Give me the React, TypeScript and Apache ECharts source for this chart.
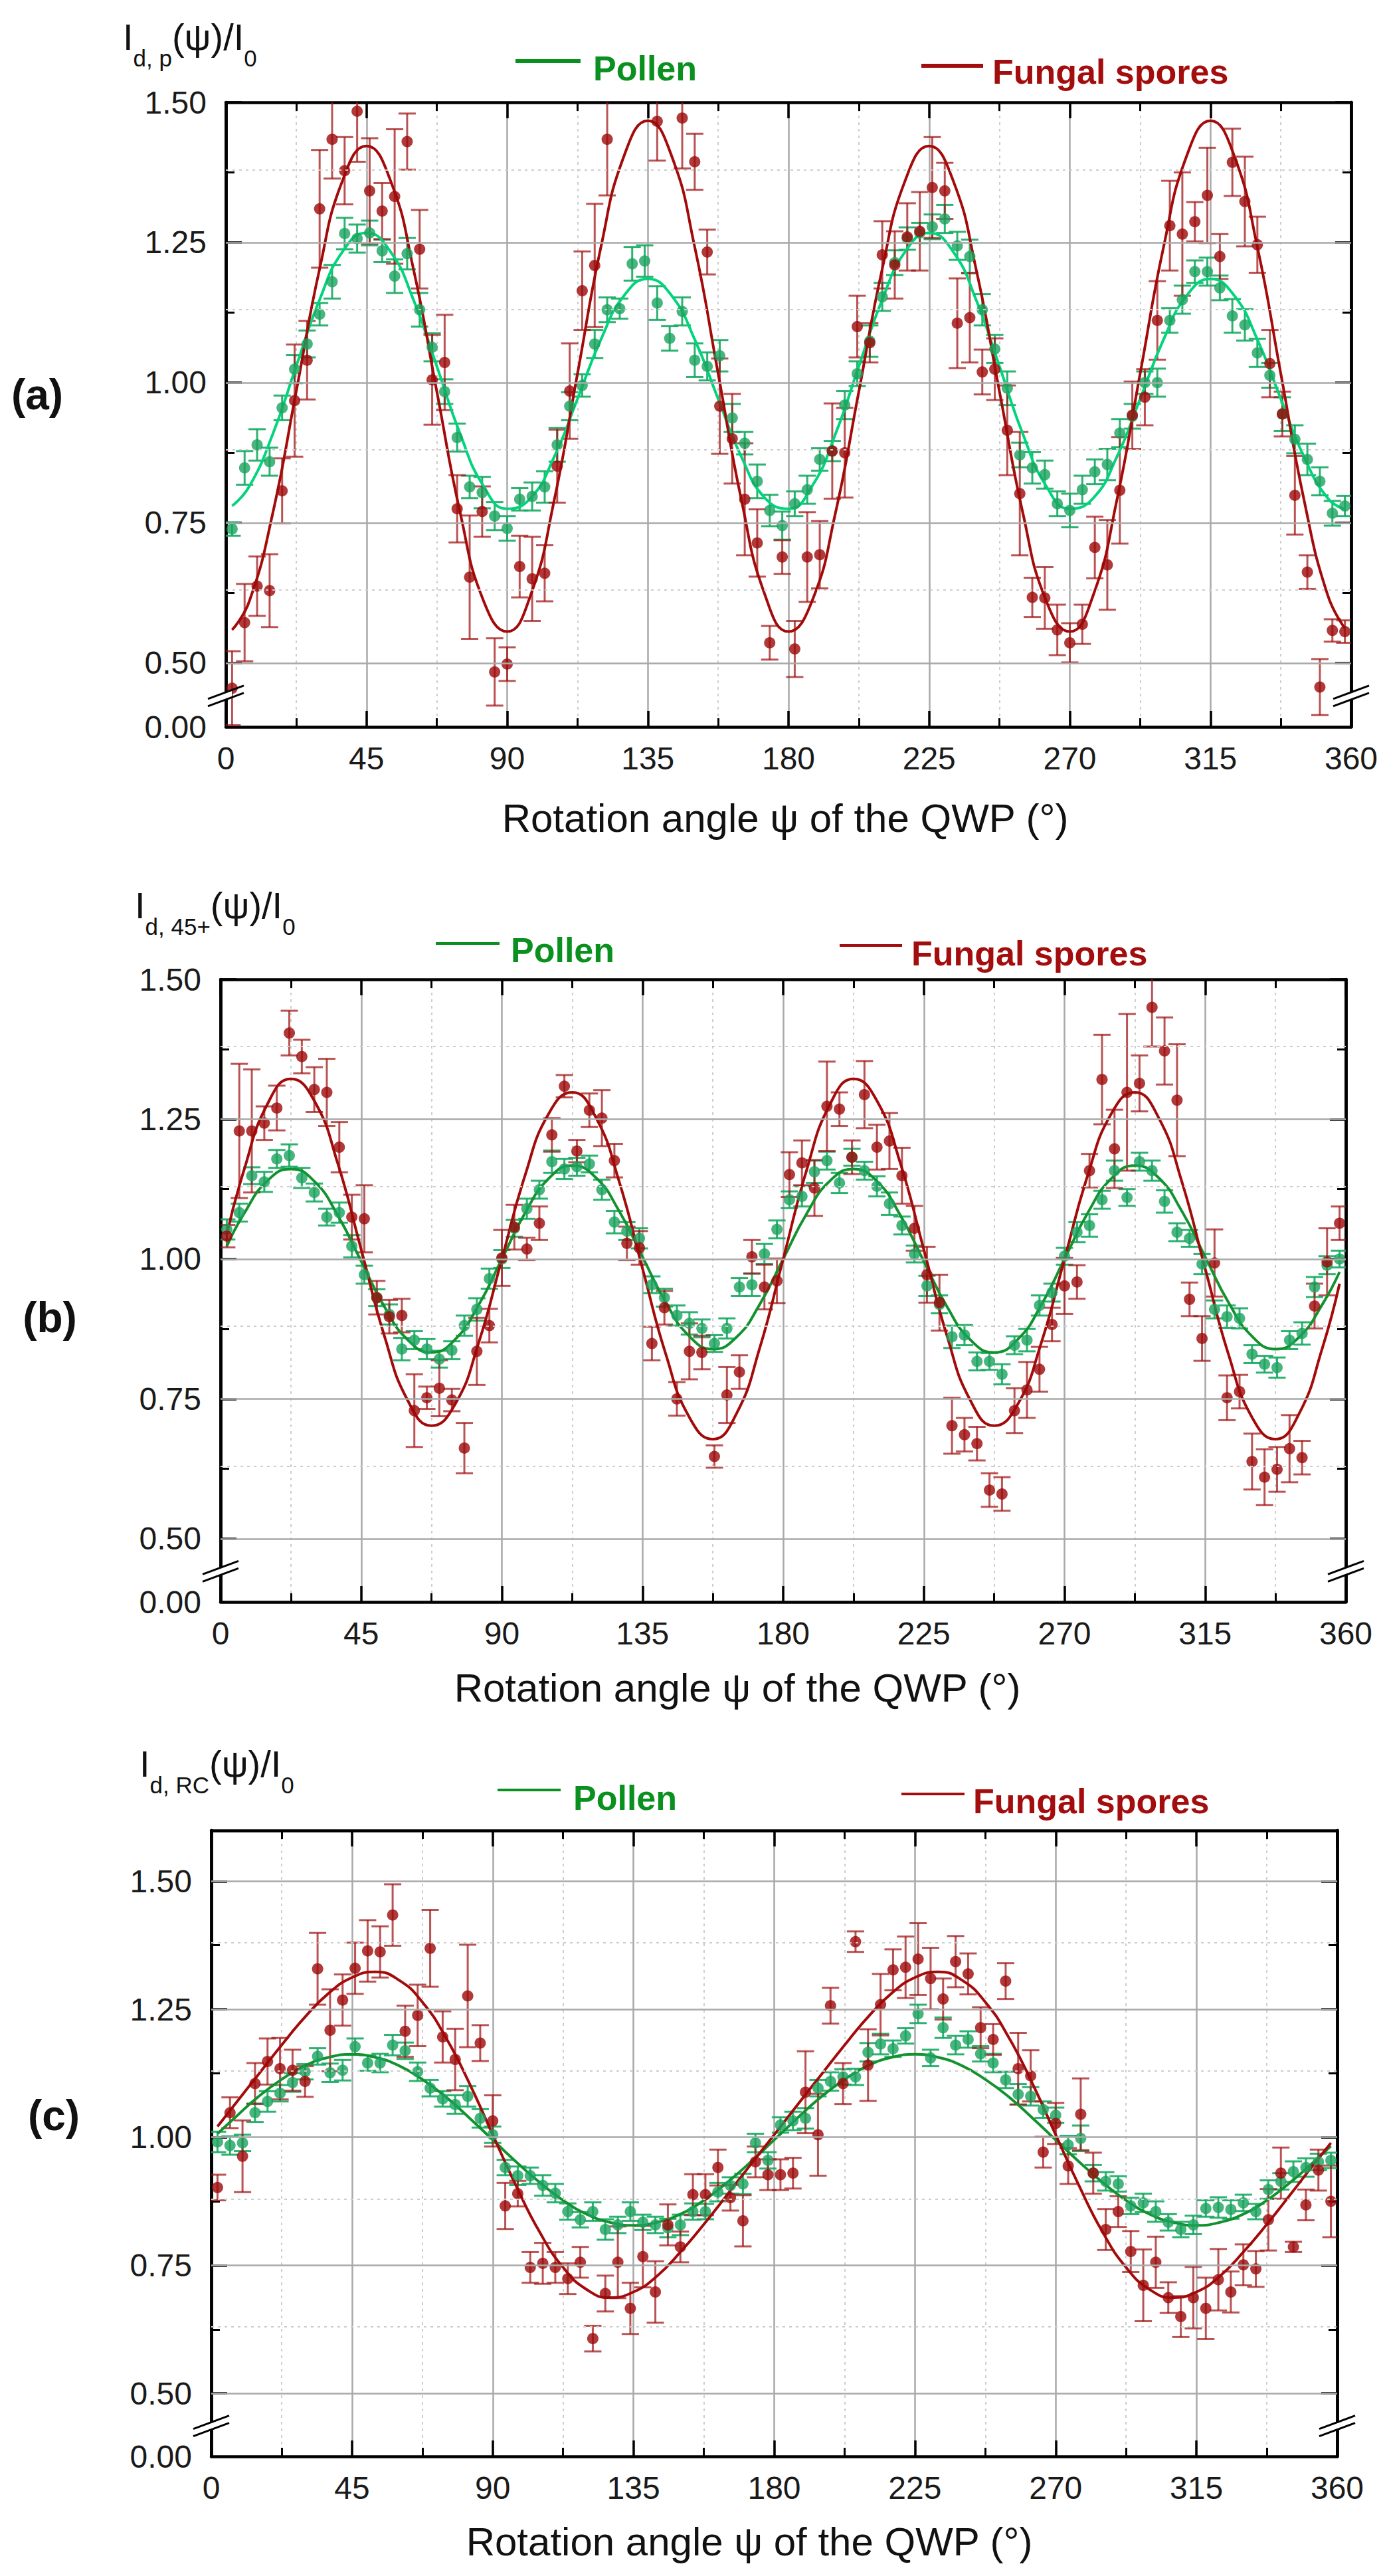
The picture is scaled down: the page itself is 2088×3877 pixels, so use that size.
import React, { useEffect, useRef } from "react";
import * as echarts from "echarts";

// ---------- data ----------
const ANGLES = [2, 6, 10, 14, 18, 22, 26, 30, 34, 38, 42, 46, 50, 54, 58, 62, 66, 70, 74, 78, 82, 86, 90, 94, 98, 102, 106, 110, 114, 118, 122, 126, 130, 134, 138, 142, 146, 150, 154, 158, 162, 166, 170, 174, 178, 182, 186, 190, 194, 198, 202, 206, 210, 214, 218, 222, 226, 230, 234, 238, 242, 246, 250, 254, 258, 262, 266, 270, 274, 278, 282, 286, 290, 294, 298, 302, 306, 310, 314, 318, 322, 326, 330, 334, 338, 342, 346, 350, 354, 358];

const FIT_ANGLES = [2, 7.5, 15, 22.5, 30, 37.5, 45, 52.5, 60, 67.5, 75, 82.5, 90, 97.5, 105, 112.5, 120, 127.5, 135, 142.5, 150, 157.5, 165, 172.5, 180, 187.5, 195, 202.5, 210, 217.5, 225, 232.5, 240, 247.5, 255, 262.5, 270, 277.5, 285, 292.5, 300, 307.5, 315, 322.5, 330, 337.5, 345, 352.5, 358];

const Y_MAJOR = [0.5, 0.75, 1.0, 1.25, 1.5];
const Y_MINOR = [0.625, 0.875, 1.125, 1.375];

// panel (a)
const A_POLLEN = [0.739, 0.848, 0.889, 0.859, 0.955, 1.024, 1.069, 1.122, 1.180, 1.266, 1.257, 1.267, 1.235, 1.190, 1.230, 1.130, 1.063, 0.984, 0.902, 0.814, 0.804, 0.762, 0.740, 0.792, 0.797, 0.814, 0.889, 0.958, 0.995, 1.069, 1.130, 1.132, 1.212, 1.217, 1.142, 1.079, 1.127, 1.040, 1.029, 1.048, 0.937, 0.892, 0.824, 0.772, 0.745, 0.784, 0.809, 0.863, 0.878, 0.960, 1.016, 1.074, 1.153, 1.214, 1.257, 1.267, 1.278, 1.292, 1.244, 1.225, 1.130, 1.060, 0.990, 0.871, 0.848, 0.836, 0.784, 0.772, 0.809, 0.841, 0.854, 0.910, 0.940, 1.000, 1.000, 1.111, 1.148, 1.198, 1.198, 1.169, 1.119, 1.103, 1.053, 1.013, 0.944, 0.899, 0.863, 0.824, 0.767, 0.780];
const A_POLLEN_ERR = [0.012, 0.030, 0.028, 0.025, 0.022, 0.025, 0.024, 0.020, 0.030, 0.028, 0.025, 0.022, 0.020, 0.030, 0.028, 0.030, 0.025, 0.022, 0.025, 0.020, 0.028, 0.025, 0.022, 0.020, 0.025, 0.028, 0.030, 0.025, 0.020, 0.025, 0.022, 0.018, 0.030, 0.028, 0.030, 0.022, 0.025, 0.030, 0.025, 0.028, 0.025, 0.020, 0.030, 0.028, 0.025, 0.022, 0.025, 0.020, 0.018, 0.025, 0.022, 0.028, 0.025, 0.022, 0.020, 0.018, 0.022, 0.025, 0.025, 0.030, 0.028, 0.025, 0.030, 0.022, 0.028, 0.025, 0.022, 0.030, 0.025, 0.022, 0.028, 0.025, 0.022, 0.020, 0.025, 0.022, 0.025, 0.020, 0.025, 0.022, 0.030, 0.028, 0.025, 0.022, 0.030, 0.025, 0.028, 0.025, 0.022, 0.018];
const A_FUNGAL = [0.455, 0.572, 0.637, 0.629, 0.807, 0.968, 1.040, 1.310, 1.434, 1.378, 1.484, 1.342, 1.306, 1.332, 1.430, 1.238, 1.005, 1.036, 0.775, 0.653, 0.770, 0.484, 0.498, 0.672, 0.650, 0.660, 0.851, 0.985, 1.164, 1.209, 1.434, null, null, null, 1.466, null, 1.472, 1.394, 1.233, 0.958, 0.900, 0.792, 0.714, 0.536, 0.689, 0.525, 0.689, 0.693, 0.878, 0.875, 1.100, 1.071, 1.228, 1.210, 1.260, 1.270, 1.348, 1.342, 1.106, 1.116, 1.019, 1.024, 0.915, 0.802, 0.617, 0.616, 0.559, 0.536, 0.569, 0.706, 0.675, 0.808, 0.942, 0.974, 1.111, 1.280, 1.265, 1.287, 1.334, 1.225, 1.393, 1.323, 1.246, 1.034, 0.944, 0.799, 0.662, 0.457, 0.558, 0.556];
const A_FUNGAL_ERR = [0.066, 0.069, 0.053, 0.065, 0.058, 0.100, 0.070, 0.105, 0.070, 0.060, 0.090, 0.094, 0.050, 0.120, 0.050, 0.070, 0.080, 0.085, 0.060, 0.110, 0.045, 0.060, 0.030, 0.055, 0.075, 0.050, 0.065, 0.085, 0.070, 0.110, 0.100, 0, 0, 0, 0.070, 0, 0.090, 0.050, 0.040, 0.085, 0.080, 0.100, 0.060, 0.030, 0.030, 0.050, 0.080, 0.060, 0.085, 0.080, 0.055, 0.035, 0.060, 0.060, 0.060, 0.070, 0.090, 0.050, 0.080, 0.080, 0.040, 0.055, 0.080, 0.110, 0.035, 0.055, 0.045, 0.035, 0.035, 0.055, 0.080, 0.095, 0.060, 0.050, 0.070, 0.080, 0.110, 0.035, 0.085, 0.040, 0.060, 0.080, 0.050, 0.060, 0.040, 0.070, 0.030, 0.050, 0.020, 0.020];
const A_POLLEN_FIT = [0.780, 0.815, 0.908, 1.029, 1.148, 1.235, 1.267, 1.235, 1.148, 1.029, 0.908, 0.815, 0.775, 0.794, 0.867, 0.971, 1.077, 1.156, 1.185, 1.156, 1.077, 0.971, 0.867, 0.794, 0.775, 0.815, 0.908, 1.029, 1.148, 1.235, 1.267, 1.235, 1.148, 1.029, 0.908, 0.815, 0.775, 0.794, 0.867, 0.971, 1.077, 1.156, 1.185, 1.156, 1.077, 0.971, 0.867, 0.794, 0.774];
const A_FUNGAL_FIT = [0.559, 0.610, 0.767, 0.984, 1.203, 1.363, 1.422, 1.363, 1.203, 0.984, 0.767, 0.610, 0.556, 0.621, 0.789, 1.016, 1.242, 1.406, 1.467, 1.406, 1.242, 1.016, 0.789, 0.621, 0.556, 0.610, 0.767, 0.984, 1.203, 1.363, 1.422, 1.363, 1.203, 0.984, 0.767, 0.610, 0.556, 0.621, 0.789, 1.016, 1.242, 1.406, 1.467, 1.406, 1.242, 1.016, 0.789, 0.621, 0.562];

// panel (b)
const B_POLLEN = [1.053, 1.083, 1.149, 1.138, 1.179, 1.185, 1.145, 1.119, 1.075, 1.083, 1.023, 0.972, 0.931, 0.901, 0.839, 0.855, 0.839, 0.821, 0.837, 0.881, 0.910, 0.965, 1.000, 1.055, 1.090, 1.124, 1.174, 1.161, 1.165, 1.170, 1.124, 1.066, 1.050, 1.037, 0.954, 0.931, 0.899, 0.885, 0.876, 0.849, 0.876, 0.950, 0.954, 1.009, 1.053, 1.106, 1.112, 1.156, 1.176, 1.136, 1.182, 1.158, 1.130, 1.099, 1.060, 1.009, 0.952, 0.919, 0.861, 0.864, 0.817, 0.817, 0.794, 0.846, 0.855, 0.917, 0.940, 1.005, 1.048, 1.060, 1.106, 1.158, 1.110, 1.174, 1.158, 1.103, 1.048, 1.037, 0.991, 0.910, 0.897, 0.894, 0.830, 0.812, 0.806, 0.855, 0.867, 0.950, 0.989, 1.000];
const B_POLLEN_ERR = [0.018, 0.016, 0.015, 0.018, 0.016, 0.020, 0.018, 0.016, 0.015, 0.018, 0.020, 0.016, 0.015, 0.018, 0.020, 0.016, 0.018, 0.015, 0.016, 0.018, 0.020, 0.018, 0.016, 0.015, 0.018, 0.016, 0.020, 0.018, 0.016, 0.015, 0.018, 0.020, 0.016, 0.018, 0.015, 0.016, 0.018, 0.020, 0.016, 0.015, 0.018, 0.016, 0.020, 0.018, 0.016, 0.015, 0.018, 0.020, 0.016, 0.018, 0.015, 0.016, 0.018, 0.020, 0.016, 0.015, 0.018, 0.016, 0.020, 0.018, 0.016, 0.015, 0.018, 0.016, 0.020, 0.018, 0.016, 0.015, 0.018, 0.020, 0.016, 0.018, 0.015, 0.016, 0.018, 0.020, 0.016, 0.015, 0.018, 0.016, 0.020, 0.018, 0.016, 0.015, 0.018, 0.016, 0.020, 0.018, 0.016, 0.015];
const B_FUNGAL = [1.041, 1.229, 1.229, 1.243, 1.270, 1.404, 1.362, 1.303, 1.298, 1.200, 1.075, 1.072, 0.931, 0.897, 0.899, 0.729, 0.752, 0.769, 0.748, 0.662, 0.835, 0.881, 1.002, 1.057, 1.018, 1.064, 1.222, 1.309, 1.193, 1.266, 1.252, 1.176, 1.028, 1.020, 0.849, 0.913, 0.750, 0.835, 0.833, 0.647, 0.757, 0.798, 1.004, 0.950, 0.961, 1.151, 1.172, 1.127, 1.273, 1.268, 1.182, 1.294, 1.200, 1.211, 1.149, 1.055, 0.972, 0.922, 0.702, 0.686, 0.670, 0.587, 0.580, 0.729, 0.766, 0.803, 0.883, 0.952, 0.959, 1.158, 1.321, 1.197, 1.298, 1.314, 1.450, 1.372, 1.284, 0.928, 0.858, 0.993, 0.752, 0.763, 0.638, 0.610, 0.624, 0.661, 0.645, 0.916, 0.995, 1.064];
const B_FUNGAL_ERR = [0.020, 0.120, 0.110, 0.030, 0.040, 0.040, 0.030, 0.040, 0.060, 0.045, 0.040, 0.060, 0.030, 0.030, 0.030, 0.065, 0.020, 0.050, 0.020, 0.045, 0.060, 0.030, 0.050, 0.040, 0.020, 0.030, 0.030, 0.020, 0.020, 0.030, 0.050, 0.030, 0.030, 0.030, 0.030, 0.030, 0.030, 0.050, 0.030, 0.020, 0.050, 0.030, 0.030, 0.040, 0.040, 0.040, 0.040, 0.050, 0.080, 0.030, 0.030, 0.060, 0.040, 0.050, 0.050, 0.040, 0.050, 0.050, 0.050, 0.030, 0.030, 0.030, 0.030, 0.040, 0.050, 0.040, 0.030, 0.050, 0.030, 0.030, 0.080, 0.070, 0.140, 0.050, 0.070, 0.060, 0.100, 0.030, 0.040, 0.060, 0.040, 0.030, 0.050, 0.050, 0.040, 0.060, 0.030, 0.040, 0.060, 0.030];
const B_POLLEN_FIT = [1.023, 1.081, 1.140, 1.161, 1.139, 1.078, 0.996, 0.914, 0.855, 0.833, 0.856, 0.917, 1.000, 1.083, 1.144, 1.167, 1.146, 1.086, 1.004, 0.922, 0.862, 0.839, 0.860, 0.919, 1.000, 1.081, 1.140, 1.161, 1.139, 1.078, 0.996, 0.914, 0.855, 0.833, 0.856, 0.917, 1.000, 1.083, 1.144, 1.167, 1.146, 1.086, 1.004, 0.922, 0.862, 0.839, 0.860, 0.919, 0.977];
const B_FUNGAL_FIT = [1.044, 1.159, 1.277, 1.322, 1.283, 1.171, 1.017, 0.861, 0.746, 0.702, 0.740, 0.849, 1.000, 1.151, 1.260, 1.298, 1.254, 1.139, 0.983, 0.829, 0.717, 0.678, 0.723, 0.841, 1.000, 1.159, 1.277, 1.322, 1.283, 1.171, 1.017, 0.861, 0.746, 0.702, 0.740, 0.849, 1.000, 1.151, 1.260, 1.298, 1.254, 1.139, 0.983, 0.829, 0.717, 0.678, 0.723, 0.841, 0.956];

// panel (c)
const C_POLLEN = [0.991, 0.984, 0.989, 1.048, 1.070, 1.086, 1.107, 1.128, 1.158, 1.126, 1.131, 1.177, 1.145, 1.145, 1.180, 1.169, 1.128, 1.096, 1.075, 1.064, 1.080, 1.037, 1.005, 0.941, 0.925, 0.925, 0.906, 0.891, 0.855, 0.839, 0.855, 0.820, 0.829, 0.855, 0.834, 0.829, 0.823, 0.829, 0.855, 0.855, 0.893, 0.906, 0.909, 0.989, 0.955, 1.024, 1.032, 1.037, 1.096, 1.109, 1.118, 1.118, 1.166, 1.182, 1.173, 1.198, 1.241, 1.155, 1.214, 1.180, 1.191, 1.163, 1.145, 1.112, 1.084, 1.080, 1.054, 1.043, 0.985, 0.998, 0.930, 0.914, 0.909, 0.866, 0.872, 0.855, 0.834, 0.820, 0.829, 0.861, 0.863, 0.859, 0.872, 0.855, 0.898, 0.914, 0.933, 0.941, 0.952, 0.955];
const C_POLLEN_ERR = [0.020, 0.018, 0.016, 0.018, 0.020, 0.016, 0.018, 0.015, 0.016, 0.018, 0.020, 0.016, 0.015, 0.018, 0.020, 0.016, 0.018, 0.016, 0.015, 0.018, 0.020, 0.018, 0.016, 0.015, 0.018, 0.016, 0.020, 0.018, 0.016, 0.015, 0.018, 0.020, 0.016, 0.018, 0.015, 0.016, 0.018, 0.020, 0.016, 0.015, 0.018, 0.016, 0.020, 0.018, 0.016, 0.015, 0.018, 0.020, 0.016, 0.018, 0.015, 0.016, 0.018, 0.020, 0.016, 0.015, 0.018, 0.016, 0.020, 0.018, 0.016, 0.015, 0.018, 0.016, 0.020, 0.018, 0.016, 0.015, 0.018, 0.025, 0.016, 0.018, 0.015, 0.016, 0.018, 0.020, 0.016, 0.015, 0.018, 0.016, 0.020, 0.018, 0.016, 0.015, 0.018, 0.016, 0.020, 0.018, 0.016, 0.015];
const C_FUNGAL = [0.902, 1.048, 0.963, 1.105, 1.148, 1.134, 1.131, 1.109, 1.329, 1.209, 1.268, 1.330, 1.364, 1.362, 1.434, 1.207, 1.238, 1.369, 1.196, 1.152, 1.276, 1.184, 1.032, 0.866, 0.890, 0.746, 0.754, 0.746, 0.724, 0.756, 0.607, 0.695, 0.756, 0.666, 0.767, 0.698, 0.829, 0.786, 0.888, 0.888, 0.941, 0.882, 0.837, 0.952, 0.927, 0.927, 0.930, 1.088, 1.005, 1.257, 1.105, 1.382, 1.141, 1.259, 1.327, 1.332, 1.348, 1.310, 1.270, 1.343, 1.319, 1.214, 1.191, 1.305, 1.134, 1.120, 0.971, 1.027, 0.944, 1.045, 0.930, 0.820, 0.855, 0.777, 0.711, 0.756, 0.687, 0.650, 0.687, 0.666, 0.722, 0.698, 0.751, 0.743, 0.839, 0.930, 0.786, 0.868, 0.936, 0.875];
const C_FUNGAL_ERR = [0.025, 0.030, 0.070, 0.040, 0.045, 0.060, 0.040, 0.030, 0.070, 0.080, 0.050, 0.050, 0.060, 0.050, 0.060, 0.050, 0.060, 0.075, 0.050, 0.060, 0.100, 0.035, 0.050, 0.045, 0.025, 0.030, 0.040, 0.030, 0.030, 0.030, 0.025, 0.035, 0.070, 0.050, 0.060, 0.060, 0.040, 0.030, 0.040, 0.040, 0.035, 0.025, 0.050, 0.030, 0.030, 0.030, 0.030, 0.080, 0.080, 0.035, 0.040, 0.020, 0.070, 0.060, 0.040, 0.060, 0.070, 0.060, 0.040, 0.050, 0.040, 0.040, 0.030, 0.035, 0.070, 0.050, 0.030, 0.040, 0.035, 0.070, 0.040, 0.040, 0.030, 0.040, 0.070, 0.050, 0.030, 0.040, 0.060, 0.060, 0.060, 0.040, 0.040, 0.035, 0.060, 0.050, 0.010, 0.030, 0.040, 0.070];
const C_POLLEN_FIT = [1.007, 1.038, 1.079, 1.113, 1.140, 1.156, 1.162, 1.156, 1.140, 1.113, 1.079, 1.038, 0.995, 0.952, 0.912, 0.877, 0.850, 0.834, 0.828, 0.834, 0.850, 0.877, 0.912, 0.952, 0.995, 1.038, 1.079, 1.113, 1.140, 1.156, 1.162, 1.156, 1.140, 1.113, 1.079, 1.038, 0.995, 0.952, 0.912, 0.877, 0.850, 0.834, 0.828, 0.834, 0.850, 0.877, 0.912, 0.952, 0.983];
const C_FUNGAL_FIT = [1.021, 1.064, 1.122, 1.180, 1.235, 1.281, 1.312, 1.323, 1.307, 1.264, 1.195, 1.106, 1.005, 0.905, 0.815, 0.746, 0.703, 0.687, 0.698, 0.729, 0.776, 0.830, 0.888, 0.947, 1.005, 1.064, 1.122, 1.180, 1.235, 1.281, 1.312, 1.323, 1.307, 1.264, 1.195, 1.106, 1.005, 0.905, 0.815, 0.746, 0.703, 0.687, 0.698, 0.729, 0.776, 0.830, 0.888, 0.947, 0.989];

// ---------- styling / layout ----------
const FONT = '"Liberation Sans", Arial, Helvetica, sans-serif';
const FUNGAL_LINE = "#a30a0a";
const FUNGAL_DOT = "#9c0707";
const FUNGAL_ERRC = "rgba(160, 18, 18, 0.72)";
const POLLEN_DOT = "#1aa35e";
const POLLEN_ERRC = "rgba(22, 170, 98, 0.9)";
const LEGEND_GREEN = "#0a901f";
const LEGEND_RED = "#a30d0d";

const PANELS = [
  {
    left: 340, top: 154, width: 1694, height: 940, yMin: 0.386, yMax: 1.5,
    pollen: A_POLLEN, pollenErr: A_POLLEN_ERR, fungal: A_FUNGAL, fungalErr: A_FUNGAL_ERR,
    pollenFit: A_POLLEN_FIT, fungalFit: A_FUNGAL_FIT, pollenFitColor: "#00d47c",
    sub: "d, p", titleX: 185, titleTop: 5,
    lp: { lx: 776, ly: 92, lw: 98, lh: 6, tx: 893, ty: 103 },
    lf: { lx: 1387, ly: 99, lw: 93, lh: 6, tx: 1494, ty: 108 },
    tag: "(a)", tagX: 56, tagY: 594, xNameX: 1182, xNameY: 1231,
  },
  {
    left: 332, top: 1474, width: 1694, height: 937, yMin: 0.387, yMax: 1.5,
    pollen: B_POLLEN, pollenErr: B_POLLEN_ERR, fungal: B_FUNGAL, fungalErr: B_FUNGAL_ERR,
    pollenFit: B_POLLEN_FIT, fungalFit: B_FUNGAL_FIT, pollenFitColor: "#12922e",
    sub: "d, 45+", titleX: 203, titleTop: 1312,
    lp: { lx: 656, ly: 1420, lw: 96, lh: 4, tx: 769, ty: 1430 },
    lf: { lx: 1264, ly: 1423, lw: 94, lh: 4, tx: 1372, ty: 1435 },
    tag: "(b)", tagX: 75, tagY: 1983, xNameX: 1110, xNameY: 2540,
  },
  {
    left: 318, top: 2755, width: 1695, height: 942, yMin: 0.377, yMax: 1.599,
    pollen: C_POLLEN, pollenErr: C_POLLEN_ERR, fungal: C_FUNGAL, fungalErr: C_FUNGAL_ERR,
    pollenFit: C_POLLEN_FIT, fungalFit: C_FUNGAL_FIT, pollenFitColor: "#12922e",
    sub: "d, RC", titleX: 210, titleTop: 2604,
    lp: { lx: 749, ly: 2694, lw: 95, lh: 4, tx: 863, ty: 2706 },
    lf: { lx: 1357, ly: 2700, lw: 95, lh: 4, tx: 1465, ty: 2711 },
    tag: "(c)", tagX: 81, tagY: 3184, xNameX: 1128, xNameY: 3825,
  },
];

const makeErrorRender = (color: string) => (_params: any, api: any) => {
  const x = api.value(0);
  const lo = api.coord([x, api.value(1)]);
  const hi = api.coord([x, api.value(2)]);
  const hw = 13;
  const style = { stroke: color, lineWidth: 3 };
  return {
    type: "group",
    children: [
      { type: "line", shape: { x1: lo[0], y1: lo[1], x2: hi[0], y2: hi[1] }, style },
      { type: "line", shape: { x1: hi[0] - hw, y1: hi[1], x2: hi[0] + hw, y2: hi[1] }, style },
      { type: "line", shape: { x1: lo[0] - hw, y1: lo[1], x2: lo[0] + hw, y2: lo[1] }, style },
    ],
  };
};

const pointsOf = (vals: (number | null)[]) =>
  ANGLES.map((a, i) => [a, vals[i]]).filter((d) => d[1] !== null);
const errorsOf = (vals: (number | null)[], errs: number[]) =>
  ANGLES.map((a, i) => (vals[i] === null ? null : [a, (vals[i] as number) - errs[i], (vals[i] as number) + errs[i]])).filter(
    (d) => d !== null
  );
const fitOf = (vals: number[]) => FIT_ANGLES.map((a, i) => [a, vals[i]]);

function buildOption() {
  const grid: any[] = [];
  const xAxis: any[] = [];
  const yAxis: any[] = [];
  const series: any[] = [];
  const axisLineStyle = { color: "#000", width: 4.5 };
  const tickStyle = { color: "#000", width: 3.5 };

  PANELS.forEach((p, i) => {
    grid.push({ left: p.left, top: p.top, width: p.width, height: p.height, containLabel: false, outerBoundsMode: "none" });
    const xCommon = {
      gridIndex: i, type: "value", min: 0, max: 360, interval: 45,
      axisLine: { show: true, onZero: false, lineStyle: axisLineStyle },
      axisTick: { show: true, inside: true, length: 24, lineStyle: tickStyle },
      minorTick: { show: true, splitNumber: 2, length: 13, lineStyle: { color: "#000", width: 3 } },
    };
    xAxis.push({
      ...xCommon, position: "bottom",
      axisLabel: { fontSize: 48, color: "#1a1a1a", fontFamily: FONT, margin: 23 },
      splitLine: { show: true, lineStyle: { color: "#a9a9a9", width: 2.5 } },
      minorSplitLine: { show: true, lineStyle: { color: "#cdcdcd", width: 2, type: [4, 6] } },
    });
    xAxis.push({
      ...xCommon, position: "top",
      axisLabel: { show: false }, splitLine: { show: false }, minorSplitLine: { show: false },
    });
    const majors = Y_MAJOR.filter((v) => v <= p.yMax + 1e-9);
    const minors = Y_MINOR.filter((v) => v <= p.yMax + 1e-9);
    const yCommon = {
      gridIndex: i, type: "value", min: p.yMin, max: p.yMax,
      axisLine: { show: true, onZero: false, lineStyle: axisLineStyle },
      splitLine: { show: false },
    };
    ["left", "right"].forEach((pos) => {
      yAxis.push({
        ...yCommon, position: pos,
        axisTick: { show: true, inside: true, length: 24, customValues: majors, lineStyle: tickStyle },
        axisLabel:
          pos === "left"
            ? {
                show: true, customValues: [p.yMin, ...majors], fontSize: 48, color: "#1a1a1a",
                fontFamily: FONT, margin: 29,
                formatter: (v: number) => (v < 0.45 ? "0.00" : v.toFixed(2)),
              }
            : { show: false },
      });
      yAxis.push({
        ...yCommon, position: pos,
        axisTick: { show: true, inside: true, length: 13, customValues: minors, lineStyle: { color: "#000", width: 3 } },
        axisLabel: { show: false },
      });
    });

    const xi = 2 * i;
    const yi = 4 * i;
    // horizontal grid lines
    series.push({
      type: "line", xAxisIndex: xi, yAxisIndex: yi, data: [[0, 1]], symbol: "none",
      lineStyle: { opacity: 0 }, silent: true, z: 1,
      markLine: {
        silent: true, symbol: ["none", "none"], label: { show: false }, animation: false,
        data: [
          ...majors.filter((v) => v < p.yMax - 0.01).map((v) => ({ yAxis: v, lineStyle: { color: "#a9a9a9", width: 2.5, type: "solid" } })),
          ...minors.map((v) => ({ yAxis: v, lineStyle: { color: "#cdcdcd", width: 2, type: [4, 6] } })),
        ],
      },
    });
    // pollen
    series.push({
      name: "Pollen", type: "custom", xAxisIndex: xi, yAxisIndex: yi, clip: true, z: 3, silent: true,
      data: errorsOf(p.pollen, p.pollenErr), encode: { x: 0, y: [1, 2] },
      renderItem: makeErrorRender(POLLEN_ERRC),
    });
    series.push({
      name: "Pollen", type: "scatter", xAxisIndex: xi, yAxisIndex: yi, z: 3, symbolSize: 17,
      itemStyle: { color: POLLEN_DOT }, data: pointsOf(p.pollen),
    });
    series.push({
      name: "Pollen", type: "line", xAxisIndex: xi, yAxisIndex: yi, z: 3, smooth: 0.5, symbol: "none",
      lineStyle: { color: p.pollenFitColor, width: 4 }, data: fitOf(p.pollenFit),
    });
    // fungal
    series.push({
      name: "Fungal spores", type: "custom", xAxisIndex: xi, yAxisIndex: yi, clip: true, z: 3, silent: true,
      data: errorsOf(p.fungal, p.fungalErr), encode: { x: 0, y: [1, 2] },
      renderItem: makeErrorRender(FUNGAL_ERRC),
    });
    series.push({
      name: "Fungal spores", type: "scatter", xAxisIndex: xi, yAxisIndex: yi, z: 3, symbolSize: 17,
      itemStyle: { color: FUNGAL_DOT }, data: pointsOf(p.fungal),
    });
    series.push({
      name: "Fungal spores", type: "line", xAxisIndex: xi, yAxisIndex: yi, z: 3, smooth: 0.5, symbol: "none",
      lineStyle: { color: FUNGAL_LINE, width: 4 }, data: fitOf(p.fungalFit),
    });
  });

  return { animation: false, backgroundColor: "#ffffff", grid, xAxis, yAxis, series };
}

function buildGraphic(chart: any) {
  const els: any[] = [];
  PANELS.forEach((p, i) => {
    // y-axis title with subscripts
    els.push({
      type: "text", x: p.titleX, y: p.titleTop, z: 100,
      style: {
        text: `{m|I}{s|${p.sub}}{m|(ψ)/I}{s|0}`,
        align: "left", verticalAlign: "top", fill: "#111", fontFamily: FONT, fontSize: 56,
        rich: {
          m: { fontSize: 56, lineHeight: 100, fontFamily: FONT, fill: "#111" },
          s: { fontSize: 35, lineHeight: 35, verticalAlign: "bottom", fontFamily: FONT, fill: "#111" },
        },
      },
    });
    // legend
    els.push({ type: "rect", z: 100, shape: { x: p.lp.lx, y: p.lp.ly - p.lp.lh / 2, width: p.lp.lw, height: p.lp.lh }, style: { fill: LEGEND_GREEN } });
    els.push({
      type: "text", z: 100, x: p.lp.tx, y: p.lp.ty,
      style: { text: "Pollen", fill: LEGEND_GREEN, fontFamily: FONT, fontSize: 52, fontWeight: "bold", align: "left", verticalAlign: "middle" },
    });
    els.push({ type: "rect", z: 100, shape: { x: p.lf.lx, y: p.lf.ly - p.lf.lh / 2, width: p.lf.lw, height: p.lf.lh }, style: { fill: LEGEND_RED } });
    els.push({
      type: "text", z: 100, x: p.lf.tx, y: p.lf.ty,
      style: { text: "Fungal spores", fill: LEGEND_RED, fontFamily: FONT, fontSize: 52, fontWeight: "bold", align: "left", verticalAlign: "middle" },
    });
    // panel tag
    els.push({
      type: "text", z: 100, x: p.tagX, y: p.tagY,
      style: { text: p.tag, fill: "#111", fontFamily: FONT, fontSize: 64, fontWeight: "bold", align: "center", verticalAlign: "middle" },
    });
    // x-axis name
    els.push({
      type: "text", z: 100, x: p.xNameX, y: p.xNameY,
      style: { text: "Rotation angle ψ of the QWP (°)", fill: "#111", fontFamily: FONT, fontSize: 60, align: "center", verticalAlign: "middle" },
    });
    // axis break marks
    const finder = { xAxisIndex: 2 * i, yAxisIndex: 4 * i };
    const pHalf = chart.convertToPixel(finder, [0, 0.5]);
    const pBot = chart.convertToPixel(finder, [360, p.yMin]);
    const yc = (pHalf[1] + pBot[1]) / 2 - 2;
    [pHalf[0], pBot[0]].forEach((x) => {
      els.push({
        type: "polygon", z: 110,
        shape: { points: [[x - 9, yc + 1.3], [x + 9, yc - 5.3], [x + 9, yc + 5.7], [x - 9, yc + 12.3]] },
        style: { fill: "#ffffff" },
      });
      els.push({ type: "line", z: 111, shape: { x1: x - 27, y1: yc + 8, x2: x + 27, y2: yc - 12 }, style: { stroke: "#000", lineWidth: 3 } });
      els.push({ type: "line", z: 111, shape: { x1: x - 27, y1: yc + 19, x2: x + 27, y2: yc - 1 }, style: { stroke: "#000", lineWidth: 3 } });
    });
  });
  return els;
}

export default function App() {
  const ref = useRef<HTMLDivElement>(null);
  useEffect(() => {
    if (!ref.current) return;
    const chart = echarts.init(ref.current, null, { renderer: "svg", width: 2088, height: 3877 });
    chart.setOption(buildOption() as any);
    chart.setOption({ graphic: { elements: buildGraphic(chart) } } as any);
    return () => chart.dispose();
  }, []);
  return (
    <div
      ref={ref}
      style={{ position: "absolute", left: 0, top: 0, width: 2088, height: 3877, background: "#fff" }}
    />
  );
}
